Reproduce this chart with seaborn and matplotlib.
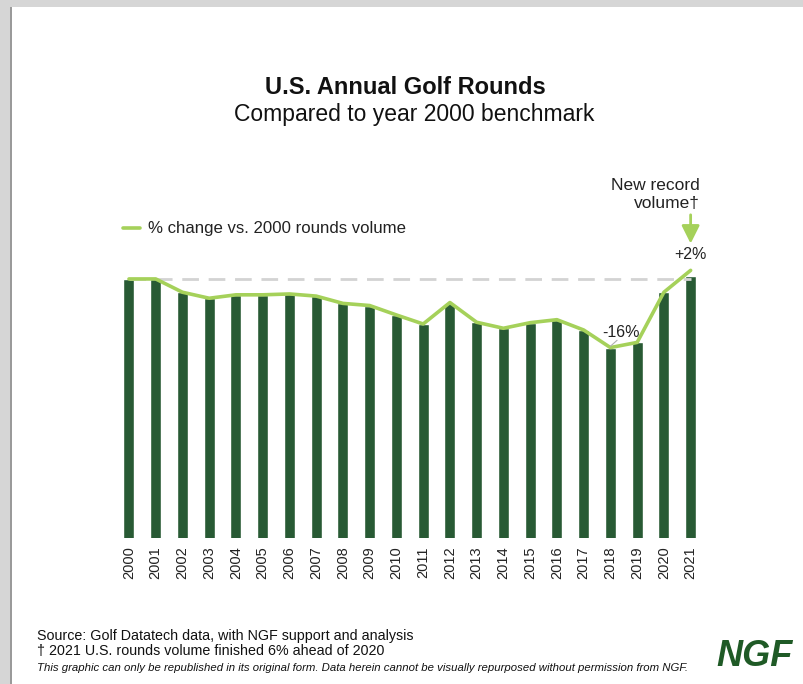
import matplotlib
matplotlib.use("Agg")
import matplotlib.pyplot as plt
from matplotlib.patches import Rectangle
import seaborn as sns
import numpy as np
import pandas as pd

# ---- data ----
years = [str(y) for y in range(2000, 2022)]
rounds_index = [100.0, 100.0, 96.9, 95.5, 96.3, 96.3, 96.5, 96.0, 94.3, 93.8,
                91.6, 89.5, 94.5, 89.9, 88.5, 89.8, 90.5, 88.1, 84.0, 85.2,
                96.9, 100.7]
pct_change = [0.0, 0.0, -3.1, -4.5, -3.7, -3.7, -3.5, -4.0, -5.7, -6.2,
              -8.4, -10.5, -5.5, -10.1, -11.5, -10.2, -9.5, -11.9, -16.0, -14.8,
              -3.1, 2.0]
legend_label = "% change vs. 2000 rounds volume"

BAR = "#285a34"
LINE = "#a5d15a"
GREY = "#d3d3d3"

sns.set_theme(style="white")
plt.rcParams["font.family"] = ["Liberation Sans", "DejaVu Sans"]

W, H = 804, 684
fig = plt.figure(figsize=(W / 100, H / 100), dpi=100)
fig.patch.set_facecolor("#d6d6d6")
fig.patches.append(Rectangle((12 / W, 0), 1, 1 - 7 / H, transform=fig.transFigure,
                             facecolor="white", edgecolor="none", zorder=-10))
fig.patches.append(Rectangle((10 / W, 0), 2 / W, 1 - 7 / H, transform=fig.transFigure,
                             facecolor="#9a9a9a", edgecolor="none", zorder=-10))

ax = fig.add_axes([115.6 / W, 1 - 538 / H, (704 - 115.6) / W, (538 - 170) / H])
ax.set_facecolor("none")

df = pd.DataFrame({"year": years, "index": rounds_index, "pct": pct_change})
sns.barplot(data=df, x="year", y="index", color=BAR, width=0.41, saturation=1,
            ax=ax, zorder=2)
ax.set_xlim(-0.5, len(years) - 0.5)
ax.set_ylim(39.6, 125.4)

ax2 = ax.twinx()
ax2.set_ylim(39.6 - 100, 125.4 - 100)
pos = np.arange(len(years))
ax2.hlines(0, pos[0], pos[-1], colors=GREY, linestyles=(0, (6, 3.5)), linewidth=2, zorder=3)
sns.lineplot(x=pos, y=df["pct"], color=LINE, linewidth=2.6, ax=ax2, zorder=4,
             label=legend_label)

for a in (ax, ax2):
    for s in a.spines.values():
        s.set_visible(False)
    a.set_ylabel("")
    a.set_xlabel("")
    a.tick_params(length=0)
ax.set_yticks([])
ax2.set_yticks([])
ax.tick_params(axis="x", labelrotation=90, labelsize=10.5, pad=6, labelcolor="#222222")

# legend
leg = ax2.legend(loc="center left", bbox_to_anchor=(123 / W, 1 - 229 / H),
                 bbox_transform=fig.transFigure, frameon=False, fontsize=12.1,
                 handlelength=1.0, handletextpad=0.5, borderpad=0, borderaxespad=0)
for t in leg.get_texts():
    t.set_color("#222222")

# annotations
ax2.text(21.35, 21.7, "New record", ha="right", va="center", fontsize=12.5, color="#222222")
ax2.text(21.35, 17.7, "volume\u2020", ha="right", va="center", fontsize=12.5, color="#222222")
ax2.annotate("", xy=(21, 7.6), xytext=(21, 15.6),
             arrowprops=dict(arrowstyle="-|>,head_length=0.9,head_width=0.45",
                             color=LINE, linewidth=2))
ax2.text(21, 5.6, "+2%", ha="center", va="center", fontsize=11.5, color="#222222")
ax2.text(18.4, -12.6, "-16%", ha="center", va="center", fontsize=11.5, color="#222222")
ax2.plot([18.25, 18.0], [-14.3, -15.7], color="#b0b0b0", linewidth=0.8, zorder=5)

# titles
fig.text(405 / W, 1 - 88 / H, "U.S. Annual Golf Rounds", ha="center", va="center",
         fontsize=17, fontweight="bold", color="#111111")
fig.text(414 / W, 1 - 115 / H, "Compared to year 2000 benchmark", ha="center", va="center",
         fontsize=16.5, color="#111111")

# footer
fig.text(37 / W, 1 - 636 / H, "Source: Golf Datatech data, with NGF support and analysis",
         ha="left", va="center", fontsize=10.3, color="#111111")
fig.text(37 / W, 1 - 651 / H, "\u2020 2021 U.S. rounds volume finished 6% ahead of 2020",
         ha="left", va="center", fontsize=10.3, color="#111111")
fig.text(37 / W, 1 - 668 / H,
         "This graphic can only be republished in its original form. Data herein cannot be "
         "visually repurposed without permission from NGF.",
         ha="left", va="center", fontsize=8.2, style="italic", color="#111111")
fig.text(755 / W, 1 - 657 / H, "NGF", ha="center", va="center", fontsize=26,
         fontweight="bold", style="italic", color="#1f5a26")

fig.savefig("out.png", dpi=100, facecolor=fig.get_facecolor())
